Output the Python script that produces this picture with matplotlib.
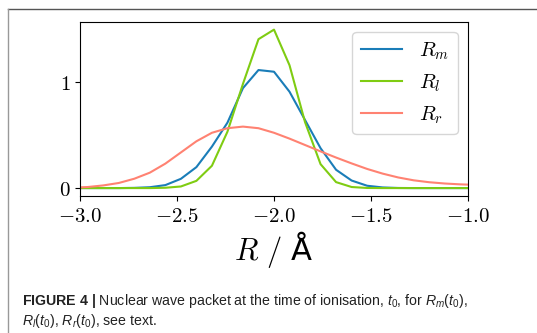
import matplotlib
matplotlib.use('Agg')
import matplotlib.pyplot as plt
from matplotlib.lines import Line2D
from matplotlib.ticker import FuncFormatter

plt.rcParams['mathtext.fontset'] = 'cm'
plt.rcParams['mathtext.rm'] = 'Liberation Sans'
plt.rcParams['mathtext.it'] = 'Liberation Sans:italic'
plt.rcParams['mathtext.bf'] = 'Liberation Sans:bold'
plt.rcParams['font.family'] = ['DejaVu Sans']

# nuclear coordinate grid (Å) and wave packet densities
r_grid = [-3.04, -2.96, -2.88, -2.80, -2.72, -2.64, -2.56, -2.48, -2.40,
          -2.32, -2.24, -2.16, -2.08, -2.00, -1.92, -1.84, -1.76, -1.68,
          -1.60, -1.52, -1.44, -1.36, -1.28, -1.20, -1.12, -1.04, -0.96]
r_m = [0, 0, 0, 0, 0.002, 0.008, 0.028, 0.087, 0.197,
       0.39, 0.615, 0.94, 1.11, 1.094, 0.906, 0.64, 0.375, 0.172,
       0.071, 0.022, 0.006, 0.001, 0, 0, 0, 0, 0]
r_l = [0, 0, 0, 0, 0, 0, 0.003, 0.015, 0.068,
       0.21, 0.53, 0.98, 1.40, 1.49, 1.155, 0.62, 0.225, 0.056,
       0.01, 0.001, 0, 0, 0, 0, 0, 0, 0]
r_r = [0.004, 0.01, 0.025, 0.048, 0.088, 0.145, 0.23, 0.335, 0.44,
       0.52, 0.563, 0.578, 0.563, 0.52, 0.465, 0.405, 0.345, 0.287,
       0.232, 0.18, 0.136, 0.10, 0.073, 0.055, 0.043, 0.035, 0.03]

labels = [r'$R_m$', r'$R_l$', r'$R_r$']
colors = ['#1a7db8', '#7fcc12', '#ff8272']

fig = plt.figure(figsize=(5.37, 3.33), dpi=100)
ax = fig.add_axes([80 / 537, 1 - 196 / 333, 388 / 537, 174.3 / 333])

for ys, lab, c in zip([r_m, r_l, r_r], labels, colors):
    ax.plot(r_grid, ys, color=c, lw=1.5, label=lab)

ax.set_xlim(-3.0, -1.0)
ax.set_xticks([-3.0, -2.5, -2.0, -1.5, -1.0])
ax.set_yticks([0, 1])
ax.xaxis.set_major_formatter(FuncFormatter(lambda v, p: f'${v:.1f}$'))
ax.yaxis.set_major_formatter(FuncFormatter(lambda v, p: f'${v:.0f}$'))
ax.tick_params(labelsize=15)
ax.set_xlabel(r'$R\ /\ $Å', fontsize=22, labelpad=2)
ax.legend(fontsize=15, loc='upper right')

# card frame of the journal page
fig.add_artist(Line2D([8.3 / 537, 1], [1 - 9.3 / 333] * 2, color='#555555', lw=1.0))
fig.add_artist(Line2D([8.3 / 537] * 2, [0, 1 - 9.3 / 333], color='#999999', lw=1.0))

# caption
cap_kw = dict(fontsize=10.2, family='Liberation Sans', color='#222222',
              math_fontfamily='custom', va='baseline')
fig.text(22 / 537, 1 - 305 / 333,
         r'$\mathbf{FIGURE\ 4\ |}$ Nuclear wave packet at the time of ionisation, '
         r'$t_0$, for $R_m(t_0)$,', **cap_kw)
fig.text(22 / 537, 1 - 325 / 333, r'$R_l(t_0)$, $R_r(t_0)$, see text.', **cap_kw)

fig.savefig('out.png', dpi=100)
